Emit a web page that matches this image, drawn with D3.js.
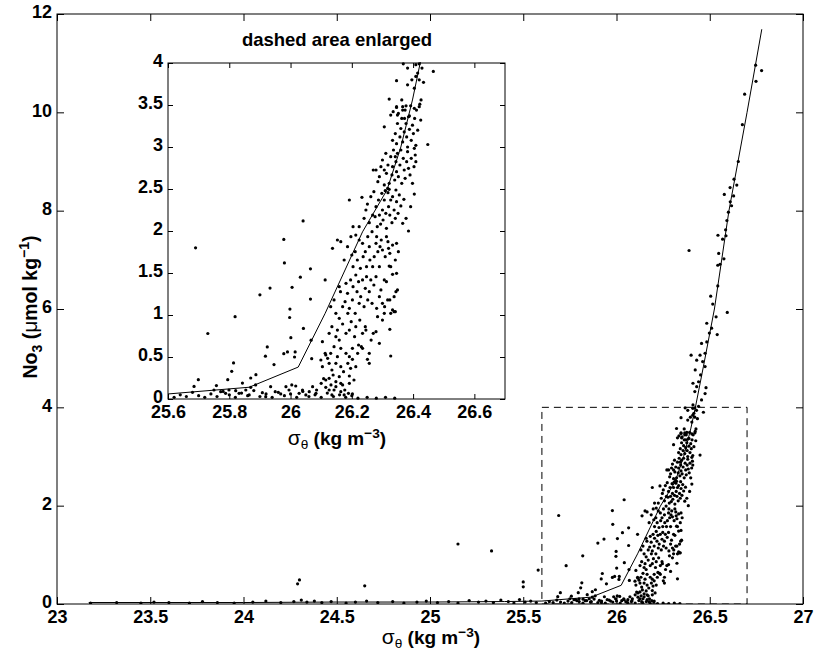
<!DOCTYPE html>
<html>
<head>
<meta charset="utf-8">
<script src="https://cdn.jsdelivr.net/npm/d3@7/dist/d3.min.js"></script>
<style>
  html, body { margin: 0; padding: 0; background: #fff; }
  svg { display: block; }
  text { font-family: "Liberation Sans", Arial, Helvetica, sans-serif; font-weight: bold; fill: #000; }
</style>
</head>
<body>
<svg id="chart" width="814" height="652"></svg>
<script>
// Nitrate (NO3) against potential density anomaly sigma-theta.
// Each observation is [sigma-theta (kg m^-3), NO3 (umol kg^-1)].

// near-surface water: nitrate essentially depleted
const surfacePoints = [
  [23.18,0.02],[23.32,0.03],[23.45,0.02],[23.52,0.04],[23.60,0.03],[23.71,0.02],[23.78,0.05],[23.86,0.03],
  [23.95,0.02],[24.05,0.04],[24.12,0.06],[24.20,0.03],[24.27,0.05],[24.31,0.08],[24.34,0.04],[24.38,0.06],
  [24.42,0.03],[24.47,0.05],[24.55,0.02],[24.60,0.04],[24.66,0.06],[24.72,0.03],[24.80,0.05],[24.86,0.02],
  [24.93,0.04],[24.98,0.06],[25.04,0.03],[25.10,0.05],[25.15,0.02],[25.21,0.07],[25.26,0.04],[25.30,0.06],
  [25.34,0.03],[25.38,0.08],[25.42,0.05],[25.45,0.02],[25.48,0.09],[25.51,0.04],[25.54,0.06],[25.57,0.03],
  [25.62,0.02],[25.64,0.05],[25.66,0.03],[25.68,0.08],[25.70,0.04],[25.72,0.02],[25.74,0.06],[25.76,0.03],
  [25.78,0.09],[25.80,0.05],[25.82,0.02],[25.84,0.07],[25.86,0.04],[25.88,0.10],[25.90,0.03],[25.92,0.06],
  [25.94,0.02],[25.96,0.08],[25.98,0.04],[26.00,0.06],[26.02,0.02],[26.04,0.09],[26.06,0.03],[26.08,0.05],
  [26.10,0.02],[26.12,0.07],[26.14,0.03],[26.16,0.05],[26.18,0.02],[26.20,0.04],[26.22,0.01],[26.25,0.02],
  [26.28,0.01],[26.31,0.02],[26.34,0.01]
];

// isolated values in the light water
const outlierPoints = [
  [24.30,0.49],[24.29,0.41],[24.65,0.37],[25.15,1.22],[25.33,1.08],[25.50,0.45],[25.50,0.35],[25.58,0.69]
];

// nitracline, sigma-theta 25.6 to 26.7
const nitraclinePoints = [
  [25.690,1.80],[25.730,0.78],[25.819,0.98],[25.900,1.24],[25.933,1.32],[25.978,1.90],[25.980,1.62],[26.041,2.12],
  [26.065,1.55],[26.032,1.45],[26.005,1.33],[26.065,1.19],[25.998,1.07],[25.997,0.97],[26.042,0.84],[26.001,0.73],
  [25.924,0.62],[25.918,0.51],[25.946,0.41],[25.978,0.54],[25.990,0.56],[26.013,0.50],[26.015,0.56],[26.067,0.70],
  [26.069,0.48],[25.814,0.43],[25.808,0.33],[25.795,0.23],[25.699,0.23],[25.685,0.15],[25.758,0.16],[25.843,0.19],
  [25.870,0.25],[25.887,0.29],
  [25.750,0.107],[25.772,0.087],[25.788,0.067],[25.799,0.107],[25.821,0.099],[25.832,0.067],[25.854,0.107],[25.865,0.048],
  [25.870,0.139],[25.886,0.167],[25.908,0.075],[25.919,0.028],[25.935,0.147],[25.950,0.087],[25.968,0.060],[25.985,0.147],
  [25.995,0.107],[26.004,0.167],[26.017,0.155],[26.028,0.067],[26.039,0.107],[26.050,0.048],[26.061,0.087],[26.072,0.147],
  [26.083,0.067],[26.108,0.242],[26.100,0.187],[26.115,0.139],[26.132,0.167],[26.135,0.048],[26.142,0.107],[26.148,0.206],
  [26.164,0.087],[26.170,0.167],[26.175,0.048],[26.189,0.067],[26.202,0.060],[26.085,0.107],
  [26.099,0.464],[26.104,0.385],[26.115,0.524],[26.121,0.484],[26.126,0.425],[26.131,0.544],[26.135,0.345],[26.139,0.286],
  [26.148,0.425],[26.153,0.504],[26.159,0.266],[26.164,0.385],[26.173,0.325],[26.181,0.544],[26.187,0.425],[26.192,0.274],
  [26.196,0.365],[26.202,0.472],[26.207,0.226],[26.213,0.385],[26.192,0.504],[26.219,0.544],[26.235,0.603],[26.251,0.472],
  [26.257,0.425],[26.192,0.187],[26.164,0.187],[26.148,0.147],[26.126,0.246],[26.115,0.226],[26.177,0.107],[26.126,0.107],
  [26.104,0.683],[26.113,0.544],[26.126,0.782],[26.135,0.861],[26.142,0.623],[26.148,0.742],[26.153,0.821],[26.159,0.702],
  [26.159,0.960],[26.164,0.603],[26.170,0.893],[26.181,0.782],[26.187,1.020],[26.192,0.821],[26.198,0.921],[26.202,0.603],
  [26.209,0.742],[26.213,0.861],[26.222,0.643],[26.231,0.623],[26.235,0.782],[26.246,0.821],[26.257,0.544],[26.263,0.702],
  [26.270,0.782],[26.279,0.802],[26.284,0.980],[26.290,0.663],[26.300,0.940],[26.306,1.020],[26.324,0.829],[26.327,0.512],
  [26.338,1.040],[26.244,0.861],[26.226,0.940],
  [26.113,1.417],[26.131,1.099],[26.142,1.179],[26.148,1.020],[26.159,1.337],[26.163,1.278],[26.170,1.099],[26.178,1.159],
  [26.181,1.377],[26.186,1.258],[26.192,1.079],[26.196,1.417],[26.202,1.179],[26.204,1.337],[26.211,1.020],[26.213,1.476],
  [26.217,1.278],[26.222,1.397],[26.224,1.139],[26.229,1.218],[26.235,1.417],[26.240,1.099],[26.244,1.317],[26.248,1.456],
  [26.252,1.179],[26.257,1.278],[26.262,1.417],[26.266,1.139],[26.272,1.357],[26.279,1.456],[26.281,1.079],[26.290,1.218],
  [26.295,1.298],[26.300,1.139],[26.307,1.099],[26.317,1.179],[26.324,1.179],[26.327,1.020],[26.333,1.060],[26.338,1.218],
  [26.344,1.278],[26.346,1.496],[26.349,1.298],[26.342,1.040],[26.333,1.484],[26.313,1.397],[26.322,1.583],[26.306,1.417],
  [26.137,1.794],[26.153,1.893],[26.164,1.873],[26.175,1.655],[26.186,1.813],[26.197,1.933],[26.200,1.714],[26.204,1.575],
  [26.211,1.754],[26.213,1.952],[26.218,1.655],[26.224,1.893],[26.228,1.556],[26.235,1.853],[26.237,1.694],[26.244,1.754],
  [26.248,1.575],[26.252,1.933],[26.257,1.813],[26.259,1.655],[26.266,1.992],[26.268,1.575],[26.273,1.694],[26.279,1.853],
  [26.281,1.933],[26.285,1.754],[26.290,1.575],[26.292,1.813],[26.296,1.893],[26.300,1.774],[26.309,1.694],[26.313,1.933],
  [26.318,1.873],[26.324,1.734],[26.327,1.575],[26.333,1.833],[26.342,1.655],[26.346,1.853],[26.352,1.754],[26.320,1.794],
  [26.192,2.369],[26.204,2.052],[26.224,2.052],[26.233,2.401],[26.240,2.151],[26.246,2.250],[26.251,2.321],[26.257,2.099],
  [26.262,2.409],[26.268,2.190],[26.272,2.468],[26.276,2.171],[26.279,2.290],[26.283,2.052],[26.287,2.369],[26.290,2.190],
  [26.294,2.083],[26.298,2.448],[26.300,2.250],[26.302,2.131],[26.306,2.369],[26.309,2.480],[26.311,2.210],[26.313,2.032],
  [26.318,2.456],[26.320,2.290],[26.324,2.190],[26.327,2.369],[26.331,2.099],[26.333,2.409],[26.338,2.250],[26.342,2.151],
  [26.346,2.349],[26.351,2.210],[26.355,2.429],[26.360,2.298],[26.366,2.091],[26.370,2.377],[26.377,2.151],[26.385,2.000],
  [26.392,2.290],[26.404,2.440],[26.344,2.488],[26.317,2.508],[26.322,2.496],
  [26.270,2.726],[26.279,2.726],[26.285,2.587],[26.290,2.647],[26.295,2.766],[26.300,2.845],[26.306,2.548],[26.311,2.925],
  [26.313,2.687],[26.318,2.786],[26.322,2.567],[26.327,2.885],[26.331,2.667],[26.333,2.766],[26.336,2.964],[26.340,2.607],
  [26.344,2.825],[26.346,2.706],[26.349,2.925],[26.352,2.647],[26.357,2.786],[26.360,2.964],[26.363,2.567],[26.368,2.865],
  [26.371,2.726],[26.374,2.627],[26.379,2.825],[26.382,2.944],[26.385,2.746],[26.390,2.667],[26.394,2.865],[26.398,2.567],
  [26.403,2.766],[26.407,2.905],[26.409,2.825],[26.404,2.984],[26.342,2.885],[26.306,2.726],
  [26.306,3.24],[26.327,3.38],[26.333,3.08],[26.342,3.16],[26.346,3.04],[26.349,3.28],[26.352,3.40],[26.357,3.12],
  [26.360,3.22],[26.363,3.34],[26.366,3.06],[26.371,3.18],[26.374,3.44],[26.377,3.28],[26.379,3.12],[26.382,3.00],
  [26.385,3.36],[26.388,3.21],[26.392,3.49],[26.394,3.08],[26.398,3.26],[26.401,3.16],[26.405,3.34],[26.409,3.02],
  [26.411,3.44],[26.415,3.20],[26.422,3.51],[26.425,3.32],[26.448,3.03],[26.366,3.48],[26.346,3.48],
  [26.368,3.99],[26.409,3.98],[26.420,3.99],[26.382,3.94],[26.429,3.94],[26.415,3.88],[26.409,3.84],[26.466,3.90],
  [26.346,3.79],[26.396,3.80],[26.420,3.80],[26.382,3.74],[26.404,3.70],[26.434,3.77],[26.322,3.57],[26.363,3.56],
  [26.377,3.49],[26.346,3.47],[26.335,3.42],[26.366,3.44],[26.349,3.38],[26.372,3.34],[26.388,3.37],[26.404,3.46],
  [26.420,3.48],[26.426,3.56]
];

// dense water below the nitracline
const deepPoints = [
  [26.410,4.49],[26.430,4.42],[26.440,4.52],[26.420,4.32],[26.475,4.28],[26.480,4.40],[26.456,4.15],[26.410,4.05],
  [26.440,4.02],[26.451,4.66],[26.422,4.76],[26.475,4.83],[26.462,4.93],[26.430,4.96],[26.475,5.10],[26.448,5.06],
  [26.400,5.06],[26.484,5.33],[26.456,5.30],[26.540,5.48],[26.498,5.51],[26.510,5.61],[26.484,5.71],[26.534,5.84],
  [26.594,5.93],[26.516,6.10],[26.505,6.26],[26.543,6.47],[26.389,7.19],[26.555,6.91],[26.543,6.89],[26.576,7.02],
  [26.548,7.13],[26.587,7.49],[26.569,7.42],[26.544,7.50],[26.585,7.61],[26.592,7.80],[26.600,7.97],[26.617,8.10],
  [26.610,8.18],[26.628,8.30],[26.578,8.33],[26.609,8.47],[26.645,8.52],[26.630,8.64],[26.653,9.00],[26.675,9.75],
  [26.687,10.37],[26.748,10.63],[26.778,10.85],[26.746,10.96]
];

// mean NO3 - sigma-theta relation
const lineSigma = [23.17, 23.60, 24.00, 24.50, 25.00, 25.40, 25.60, 25.865, 26.025, 26.113, 26.235, 26.315, 26.360, 26.398, 26.422, 26.466, 26.525, 26.603, 26.700, 26.779];
const lineNo3   = [0.03,  0.03,  0.03,  0.04,  0.04,  0.05,  0.06,  0.14,   0.38,   1.02,   1.99,   2.49,   3.00,   3.56,   3.98,   4.83,   6.00,   8.00,   10.00,  11.69];

// axis ticks
const mainXTicks = [23, 23.5, 24, 24.5, 25, 25.5, 26, 26.5, 27];
const mainYTicks = [0, 2, 4, 6, 8, 10, 12];
const insetXTicks = [25.6, 25.8, 26.0, 26.2, 26.4, 26.6];
const insetYTicks = [0, 0.5, 1, 1.5, 2, 2.5, 3, 3.5, 4];

// enlarged window
const zoomSigma = [25.6, 26.7];
const zoomNo3 = [0, 4];

const allPoints = surfacePoints.concat(outlierPoints, nitraclinePoints, deepPoints);
const linePoints = lineSigma.map((s, i) => [s, lineNo3[i]]);

const svg = d3.select("#chart");
const TICK_FONT = 18;

function drawFrame(g, x, y, xTicks, yTicks, tickLen, fmt) {
  const [x0, x1] = x.range();
  const [y0, y1] = y.range();
  const axes = [
    {axis: d3.axisBottom(x).tickValues(xTicks).tickFormat(fmt).tickPadding(6), t: `translate(0,${y0})`},
    {axis: d3.axisTop(x).tickValues(xTicks).tickFormat(""), t: `translate(0,${y1})`},
    {axis: d3.axisLeft(y).tickValues(yTicks).tickFormat(fmt).tickPadding(5), t: `translate(${x0},0)`, yLabels: true},
    {axis: d3.axisRight(y).tickValues(yTicks).tickFormat(""), t: `translate(${x1},0)`}
  ];
  axes.forEach(a => {
    a.axis.tickSizeInner(-tickLen).tickSizeOuter(0);
    const ag = g.append("g").attr("transform", a.t).call(a.axis);
    ag.select(".domain").remove();
    ag.selectAll(".tick line").attr("stroke", "#000").attr("stroke-width", 1);
    ag.selectAll("text")
      .attr("font-family", "Liberation Sans, Arial, sans-serif")
      .attr("font-weight", "bold")
      .attr("font-size", TICK_FONT)
      .attr("fill", "#000");
    if (a.yLabels) ag.selectAll("text").attr("dy", "0.22em");
  });
  g.append("rect")
    .attr("x", x0).attr("y", y1)
    .attr("width", x1 - x0).attr("height", y0 - y1)
    .attr("fill", "none").attr("stroke", "#000").attr("stroke-width", 1);
}

function sigmaLabel(g, cx, baseline, size) {
  const t = g.append("text")
    .attr("x", cx).attr("y", baseline)
    .attr("text-anchor", "middle")
    .attr("font-size", size);
  t.append("tspan").attr("font-weight", "normal").attr("font-size", size * 1.1).text("σ");
  t.append("tspan").attr("font-weight", "normal").attr("font-size", size * 0.72).attr("dy", 4).text("θ");
  t.append("tspan").attr("dy", -4).text(" (kg m");
  t.append("tspan").attr("font-size", size * 0.72).attr("dy", -7).text("−3");
  t.append("tspan").attr("dy", 7).text(")");
}

// ---------- main panel ----------
const M = {left: 57, right: 803, top: 14, bottom: 604};
const x = d3.scaleLinear().domain([23, 27]).range([M.left, M.right]);
const y = d3.scaleLinear().domain([0, 12]).range([M.bottom, M.top]);

const main = svg.append("g");
main.append("defs").append("clipPath").attr("id", "clipMain")
  .append("rect").attr("x", M.left).attr("y", M.top).attr("width", M.right - M.left).attr("height", M.bottom - M.top);

const mainData = main.append("g").attr("clip-path", "url(#clipMain)");

// dashed outline of the enlarged window
mainData.append("rect")
  .attr("x", x(zoomSigma[0])).attr("y", y(zoomNo3[1]))
  .attr("width", x(zoomSigma[1]) - x(zoomSigma[0]))
  .attr("height", y(zoomNo3[0]) - y(zoomNo3[1]))
  .attr("fill", "none").attr("stroke", "#000").attr("stroke-width", 1)
  .attr("stroke-dasharray", "7,5");

mainData.append("path")
  .datum(linePoints)
  .attr("fill", "none").attr("stroke", "#000").attr("stroke-width", 1)
  .attr("d", d3.line().x(d => x(d[0])).y(d => y(d[1])));

mainData.selectAll("circle").data(allPoints).join("circle")
  .attr("cx", d => x(d[0])).attr("cy", d => y(d[1]))
  .attr("r", 1.6).attr("fill", "#000");

drawFrame(main, x, y, mainXTicks, mainYTicks, 7, d3.format("~g"));

sigmaLabel(main, 431, 644, 19);

// y-axis title
const yt = main.append("text")
  .attr("transform", "translate(37,307) rotate(-90)")
  .attr("text-anchor", "middle")
  .attr("font-size", 19.5);
yt.append("tspan").text("No");
yt.append("tspan").attr("font-size", 14).attr("dy", 5).text("3");
yt.append("tspan").attr("dy", -5).text(" (");
yt.append("tspan").attr("font-weight", "normal").attr("font-size", 21).text("μ");
yt.append("tspan").text("mol kg");
yt.append("tspan").attr("font-size", 14).attr("dy", -8).text("−1");
yt.append("tspan").attr("dy", 8).text(")");

// ---------- inset: enlarged window ----------
const I = {left: 168, right: 505, top: 63, bottom: 399};
const xi = d3.scaleLinear().domain(zoomSigma).range([I.left, I.right]);
const yi = d3.scaleLinear().domain(zoomNo3).range([I.bottom, I.top]);

const inset = svg.append("g");
inset.append("rect")
  .attr("x", I.left).attr("y", I.top)
  .attr("width", I.right - I.left).attr("height", I.bottom - I.top)
  .attr("fill", "#fff");
inset.append("defs").append("clipPath").attr("id", "clipInset")
  .append("rect").attr("x", I.left).attr("y", I.top - 1).attr("width", I.right - I.left).attr("height", I.bottom - I.top + 2);

const insetData = inset.append("g").attr("clip-path", "url(#clipInset)");
insetData.append("path")
  .datum(linePoints)
  .attr("fill", "none").attr("stroke", "#000").attr("stroke-width", 1)
  .attr("d", d3.line().x(d => xi(d[0])).y(d => yi(d[1])));

const insetPts = allPoints.filter(d => d[0] >= zoomSigma[0] && d[0] <= zoomSigma[1] && d[1] >= zoomNo3[0] && d[1] <= zoomNo3[1]);
insetData.selectAll("circle").data(insetPts).join("circle")
  .attr("cx", d => xi(d[0])).attr("cy", d => yi(d[1]))
  .attr("r", 1.6).attr("fill", "#000");

drawFrame(inset, xi, yi, insetXTicks, insetYTicks, 5, d3.format("~g"));

inset.append("text")
  .attr("x", 337).attr("y", 46)
  .attr("text-anchor", "middle")
  .attr("font-size", 18.5)
  .text("dashed area enlarged");

sigmaLabel(inset, 337, 445, 19);
</script>
</body>
</html>
